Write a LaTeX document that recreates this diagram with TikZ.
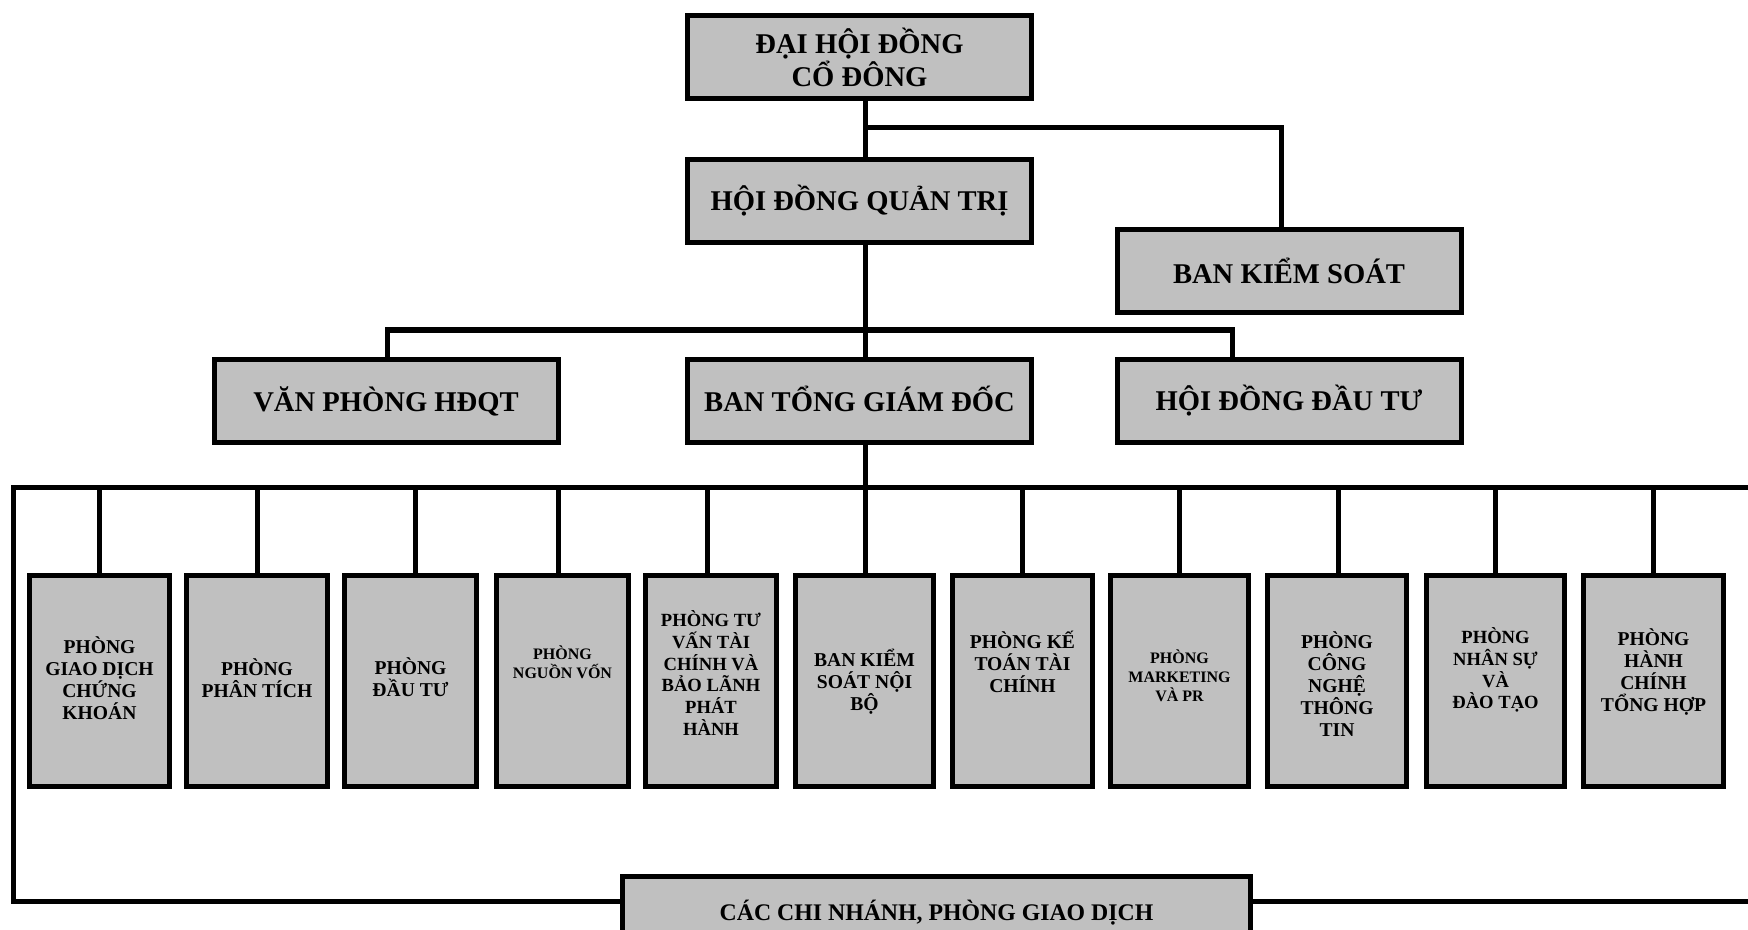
\documentclass[tikz,border=0pt]{standalone}
\usepackage{fontspec}
\setmainfont{Liberation Serif}
\definecolor{boxgray}{RGB}{192,192,192}
\begin{document}
\begin{tikzpicture}[x=0.5pt,y=-0.5pt,
  conn/.style={line width=2.5pt, line join=miter},
  big/.style={draw, line width=2.5pt, fill=boxgray, minimum width=172pt, minimum height=41.5pt, inner sep=0pt, align=center, font=\fontsize{14.3}{16.5}\selectfont\bfseries},
  dept/.style={draw, line width=2.5pt, fill=boxgray, minimum width=#1, minimum height=105.5pt, inner sep=0pt},
  dtext/.style={align=center, inner sep=0pt, font=\fontsize{9.8}{11}\selectfont\bfseries},
  dsmall/.style={align=center, inner sep=0pt, font=\fontsize{8}{9.5}\selectfont\bfseries},
  dmid/.style={align=center, inner sep=0pt, font=\fontsize{9.3}{10.9}\selectfont\bfseries}]
\useasboundingbox (0,0) rectangle (1748,930);
\clip (0,0) rectangle (1748,930);

% upper boxes
\node[big] (dhdcd) at (859.5,57) {ĐẠI HỘI ĐỒNG\\CỔ ĐÔNG};
\node[big] (hdqt) at (859.5,201) {HỘI ĐỒNG QUẢN TRỊ};
\node[big] (bks) at (1289,271) {BAN KIỂM SOÁT};
\node[big] (vp) at (386,401) {VĂN PHÒNG HĐQT};
\node[big] (btgd) at (859.5,401) {\raisebox{2pt}{BAN TỔNG GIÁM ĐỐC}};
\node[big] (hddt) at (1289,401) {HỘI ĐỒNG ĐẦU TƯ};
\node[big, minimum width=314pt, minimum height=36.5pt, font=\fontsize{11.9}{14}\selectfont\bfseries] (chi) at (936.5,913) {CÁC CHI NHÁNH, PHÒNG GIAO DỊCH};

% coordinates
\coordinate (spine) at (865,0);
\coordinate (j1) at (865,128);
\coordinate (j2) at (865,330);
\coordinate (j3) at (865,487);
\coordinate (busL) at (13,487);
\coordinate (busR) at (1760,487);
\coordinate (botL) at (13,901);
\coordinate (botR) at (1760,901);

% upper connectors
\draw[conn] (dhdcd.south -| spine) -- (hdqt.north -| spine);
\draw[conn] (j1) -| (bks.north -| 1281,0);
\draw[conn] (hdqt.south -| spine) -- (btgd.north -| spine);
\draw[conn] (vp.north -| 387,0) |- (j2) -| (hddt.north -| 1232,0);
\draw[conn] (btgd.south -| spine) -- (j3);

% buses
\draw[conn] (busR) -- (busL) -- (botL) -- (botL -| chi.west);
\draw[conn] (botL -| chi.east) -- (botR);

% department boxes
\node[dept=70pt] (d1) at (99.5,681) {};
\node[dept=70.5pt] (d2) at (257,681) {};
\node[dept=66pt] (d3) at (410.5,681) {};
\node[dept=66pt] (d4) at (562.5,681) {};
\node[dept=65.5pt] (d5) at (711,681) {};
\node[dept=69pt] (d6) at (864.5,681) {};
\node[dept=70pt] (d7) at (1022.5,681) {};
\node[dept=69pt] (d8) at (1179.5,681) {};
\node[dept=69.5pt] (d9) at (1337,681) {};
\node[dept=69pt] (d10) at (1495.5,681) {};
\node[dept=70pt] (d11) at (1653.5,681) {};

\foreach \n/\s in {1/99,2/257,3/415,4/558,5/707,6/865,7/1022,8/1179,9/1338,10/1495,11/1653}
  \draw[conn] (busL -| \s,0) -- (d\n.north -| \s,0);

% department texts
\node[dtext] (t1) at (99.5,678) {PHÒNG\\GIAO DỊCH\\CHỨNG\\KHOÁN};
\node[dtext] (t2) at (257,678) {PHÒNG\\PHÂN TÍCH};
\node[dtext] (t3) at (410.5,677) {PHÒNG\\ĐẦU TƯ};
\node[dsmall] (t4) at (562.5,662) {PHÒNG\\NGUỒN VỐN};
\node[dmid] (t5) at (711,673) {PHÒNG TƯ\\VẤN TÀI\\CHÍNH VÀ\\BẢO LÃNH\\PHÁT\\HÀNH};
\node[dtext] (t6) at (864.5,682) {BAN KIỂM\\SOÁT NỘI\\BỘ};
\node[dtext] (t7) at (1022.5,662) {PHÒNG KẾ\\TOÁN TÀI\\CHÍNH};
\node[dsmall] (t8) at (1179.5,676) {PHÒNG\\MARKETING\\VÀ PR};
\node[dtext] (t9) at (1337,684) {PHÒNG\\CÔNG\\NGHỆ\\THÔNG\\TIN};
\node[dmid] (t10) at (1495.5,670) {PHÒNG\\NHÂN SỰ\\VÀ\\ĐÀO TẠO};
\node[dtext] (t11) at (1653.5,672) {PHÒNG\\HÀNH\\CHÍNH\\TỔNG HỢP};
\end{tikzpicture}
\end{document}
